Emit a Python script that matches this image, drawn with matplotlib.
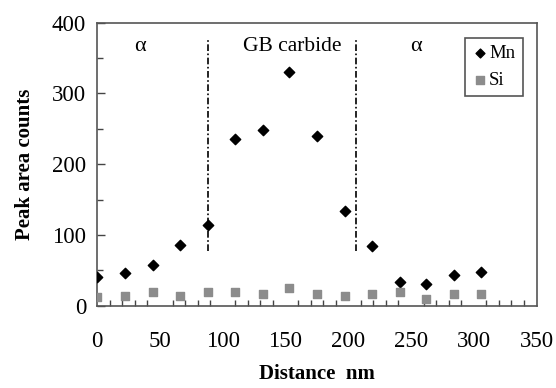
import matplotlib
matplotlib.use("Agg")
import matplotlib.pyplot as plt
from matplotlib.ticker import MultipleLocator

plt.rcParams['font.family'] = ['Liberation Serif', 'DejaVu Serif']

# distance along the line scan (nm)
distance = [0, 22, 44, 66, 88, 110, 132, 153, 175, 197, 219, 241, 262, 284, 306]
# peak area counts
mn_counts = [41, 46, 58, 86, 114, 236, 248, 330, 240, 134, 85, 33, 31, 43, 48]
si_counts = [12, 14, 19, 14, 19, 19, 17, 25, 17, 14, 17, 20, 10, 17, 17]

# phase boundaries (nm)
boundaries = [88.5, 206]

fig = plt.figure(figsize=(5.56, 3.88), dpi=100)
ax = fig.add_axes([0.175, 0.212, 0.79, 0.73])

ax.scatter(distance, mn_counts, marker='D', s=28, color='black', label='Mn', zorder=3)
ax.scatter(distance, si_counts, marker='s', s=36, color='#8c8c8c', label='Si', zorder=3)

# dash-dot lines marking the grain boundary carbide
for b in boundaries:
    ax.plot([b, b], [77, 376], color='black', linestyle=(0, (4, 1.5, 1, 1.5)), linewidth=1.2)

ax.text(34, 366, 'α', fontsize=16, ha='center', va='center')
ax.text(155, 366, 'GB carbide', fontsize=15.5, ha='center', va='center')
ax.text(254, 366, 'α', fontsize=16, ha='center', va='center')

ax.set_xlim(0, 350)
ax.set_ylim(0, 400)
ax.set_xticks(range(0, 351, 50))
ax.xaxis.set_minor_locator(MultipleLocator(10))
ax.yaxis.set_major_locator(MultipleLocator(100))
ax.yaxis.set_minor_locator(MultipleLocator(50))
ax.tick_params(axis='x', which='major', length=0, pad=18, labelsize=16.5)
ax.tick_params(axis='x', which='minor', direction='in', length=4, width=1, color='#444444')
ax.tick_params(axis='y', which='major', direction='in', length=6, width=1, color='#444444', labelsize=16.5, pad=8)
ax.tick_params(axis='y', which='minor', direction='in', length=4, width=1, color='#444444')

for s in ax.spines.values():
    s.set_color('#555555')
    s.set_linewidth(1.2)

ax.set_xlabel('Distance  nm', fontsize=15, fontweight='bold', labelpad=9)
ax.set_ylabel('Peak area counts', fontsize=15, fontweight='bold', labelpad=12)

leg = ax.legend(loc='upper right', bbox_to_anchor=(0.99, 0.98), fontsize=13.5,
                handletextpad=0.1, handlelength=0.8, borderpad=0.4,
                fancybox=False, framealpha=1, edgecolor='#555555', markerscale=0.85)
leg.get_frame().set_linewidth(1.2)

fig.savefig('out.png', dpi=100)
